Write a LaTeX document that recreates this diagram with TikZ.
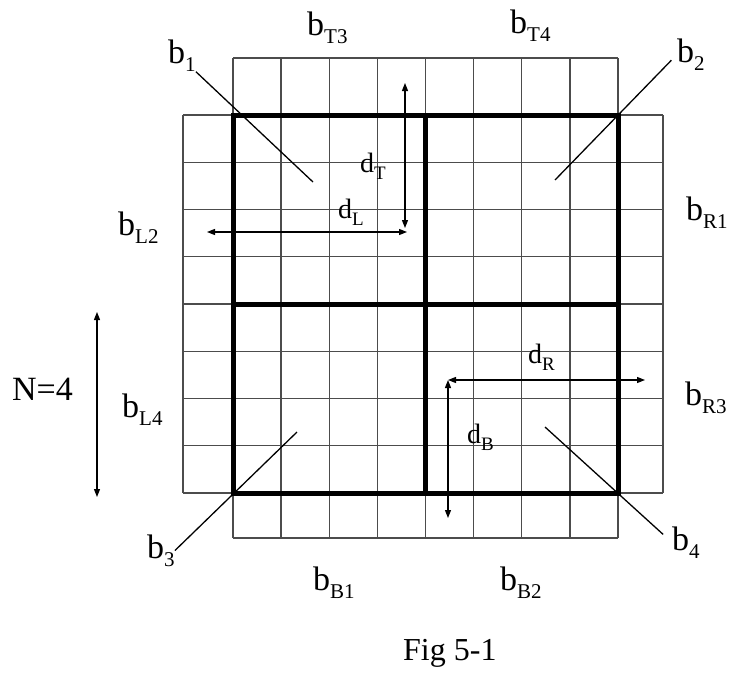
\documentclass[tikz,border=0pt]{standalone}
\usepackage{fontspec}
\setmainfont{Liberation Serif}
\usetikzlibrary{
    arrows.meta,
    positioning
}
\tikzset{
  gridline/.style  = {black!70, line width=1.3pt},
  blockline/.style = {black, line width=5pt},
  dimarr/.style    = {{Triangle[length=8pt,width=6pt]}-{Triangle[length=8pt,width=6pt]},
                      line width=1.3pt},
  lead/.style      = {black, line width=1.3pt},
  lbl/.style       = {font=\fontsize{34}{40}\selectfont, inner sep=0pt, anchor=base west},
  dlbl/.style      = {font=\fontsize{28}{34}\selectfont, inner sep=0pt, anchor=base west}
}
\newcommand{\bsub}[1]{b\raisebox{-0.25em}{\fontsize{21}{21}\selectfont #1}}
\newcommand{\dsub}[1]{d\raisebox{-0.25em}{\fontsize{19}{19}\selectfont #1}}

\begin{document}
\begin{tikzpicture}[x=1pt,y=-1pt]
\useasboundingbox (0,0) rectangle (729,683);
\foreach \i in {0,...,8}
  \draw[gridline] ({233+48.125*\i},58) -- ({233+48.125*\i},538);
\foreach \j in {0,...,8}
  \draw[gridline] (183,{115+47.25*\j}) -- (663,{115+47.25*\j});
\draw[gridline] (233,58) -- (618,58) (233,538) -- (618,538)
                (183,115) -- (183,493) (663,115) -- (663,493);
\draw[blockline] (233,115) rectangle (618,493)
                 (425.5,115) -- (425.5,493) (233,304) -- (618,304);
\node[lbl] (bT3) at (307,35) {\bsub{T3}};
\node[lbl] (bT4) at (510,33) {\bsub{T4}};
\node[lbl] (bL2) at (118,235) {\bsub{L2}};
\node[lbl] (bR1) at (686,220) {\bsub{R1}};
\node[lbl] (bL4) at (122,417) {\bsub{L4}};
\node[lbl] (bR3) at (685,405) {\bsub{R3}};
\node[lbl] (bB1) at (313,590) {\bsub{B1}};
\node[lbl] (bB2) at (500,590) {\bsub{B2}};
\node[lbl] (b1) at (168,63) {\bsub{1}};
\node[lbl] (b2) at (677,62) {\bsub{2}};
\node[lbl] (b3) at (147,558) {\bsub{3}};
\node[lbl] (b4) at (672,550) {\bsub{4}};
\node[lbl] (n4) at (12,400) {N=4};
\node[lbl, font=\fontsize{32}{38}\selectfont] (fig) at (403,660) {Fig 5-1};
\coordinate (k1) at (313,182);
\coordinate (k2) at (555,180);
\coordinate (k3) at (297,432);
\coordinate (k4) at (545,427);
\draw[lead] (k1) -- (b1.south east);
\draw[lead, shorten >=8pt] (k2) -- (b2.west);
\draw[lead] (k3) -- (b3.east);
\draw[lead, shorten >=12pt] (k4) -- (b4.west);
\node[dlbl] (dT) at (360,172) {\dsub{T}};
\node[dlbl] (dL) at (338,218) {\dsub{L}};
\node[dlbl] (dR) at (528,363) {\dsub{R}};
\node[dlbl] (dB) at (467,443) {\dsub{B}};
\coordinate (dTa) at (405,83);
\coordinate (dTb) at (405,228);
\coordinate (dLa) at (207,232);
\coordinate (dLb) at (407,232);
\coordinate (dRa) at (448,380);
\coordinate (dRb) at (645,380);
\coordinate (dBb) at (448,518);
\coordinate (na) at (97,312);
\coordinate (nb) at (97,497);
\draw[dimarr] (dTa) -- (dTb);
\draw[dimarr] (dLa) -- (dLb);
\draw[dimarr] (dRa) -- (dRb);
\draw[dimarr] (dRa) -- (dBb);
\draw[dimarr] (na) -- (nb);
\end{tikzpicture}
\end{document}
